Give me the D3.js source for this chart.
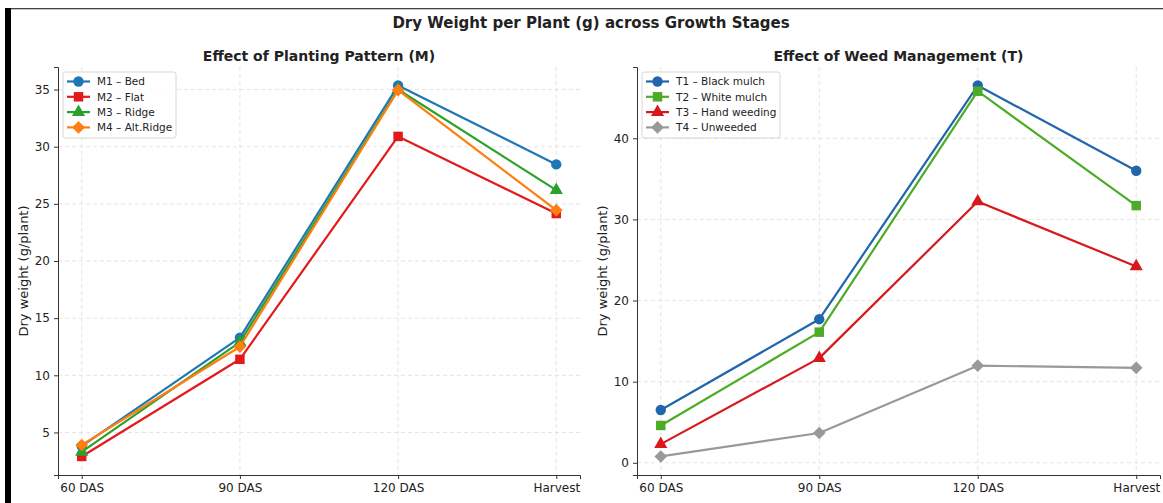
<!DOCTYPE html>
<html>
<head>
<meta charset="utf-8">
<script src="https://cdn.jsdelivr.net/npm/d3@7"></script>
<style>
  body { margin: 0; background: #fff; }
  svg text { font-family: "DejaVu Sans", sans-serif; fill: #222; }
</style>
</head>
<body>
<div id="chart"></div>
<script>
// growth stages (x categories)
var stages = ["60 DAS", "90 DAS", "120 DAS", "Harvest"];

// planting pattern series (left panel)
var patternNames = ["M1 – Bed", "M2 – Flat", "M3 – Ridge", "M4 – Alt.Ridge"];
var m1 = [3.8, 13.3, 35.35, 28.45];
var m2 = [2.9, 11.4, 30.9, 24.15];
var m3 = [3.3, 12.9, 35.0, 26.2];
var m4 = [3.9, 12.5, 34.95, 24.45];
var leftTicks = [5, 10, 15, 20, 25, 30, 35];

// weed management series (right panel)
var weedNames = ["T1 – Black mulch", "T2 – White mulch", "T3 – Hand weeding", "T4 – Unweeded"];
var t1 = [6.5, 17.7, 46.5, 36.0];
var t2 = [4.6, 16.1, 45.8, 31.7];
var t3 = [2.3, 12.9, 32.2, 24.2];
var t4 = [0.78, 3.67, 11.97, 11.7];
var rightTicks = [0, 10, 20, 30, 40];

var W = 1163, H = 503;
var svg = d3.select("#chart").append("svg")
  .attr("width", W).attr("height", H);

// frame bits seen in the screenshot
svg.append("rect").attr("x", 5).attr("y", 8).attr("width", W - 5).attr("height", 1.3).attr("fill", "#444");
svg.append("rect").attr("x", 5).attr("y", 8).attr("width", 6).attr("height", H - 8).attr("fill", "#000");

svg.append("text")
  .attr("x", 591).attr("y", 27.5)
  .attr("text-anchor", "middle")
  .style("font-size", "15px").style("font-weight", "bold")
  .text("Dry Weight per Plant (g) across Growth Stages");

function drawPanel(opts) {
  var x0 = opts.x0, x1 = opts.x1, y0 = 67, y1 = 475;
  var g = svg.append("g");

  var x = d3.scaleLinear().domain([-0.15, stages.length - 1 + 0.15]).range([x0, x1]);

  var all = [];
  opts.series.forEach(function (s) { all = all.concat(s.values); });
  var ext = d3.extent(all);
  var pad = (ext[1] - ext[0]) * 0.05;
  var y = d3.scaleLinear().domain([ext[0] - pad, ext[1] + pad]).range([y1, y0]);

  // grid
  g.selectAll(".gx").data(stages).enter().append("line")
    .attr("x1", function (d, i) { return x(i); }).attr("x2", function (d, i) { return x(i); })
    .attr("y1", y0).attr("y2", y1)
    .attr("stroke", "#ddd").attr("stroke-dasharray", "4,3").attr("stroke-width", 0.8);
  g.selectAll(".gy").data(opts.ticks).enter().append("line")
    .attr("x1", x0).attr("x2", x1)
    .attr("y1", function (d) { return y(d); }).attr("y2", function (d) { return y(d); })
    .attr("stroke", "#ddd").attr("stroke-dasharray", "4,3").attr("stroke-width", 0.8);

  // axes
  var ax = g.append("g").attr("transform", "translate(0," + y1 + ")")
    .call(d3.axisBottom(x).tickValues(d3.range(stages.length))
      .tickFormat(function (i) { return stages[i]; }).tickSizeOuter(0).tickSize(4).tickPadding(4));
  var ay = g.append("g").attr("transform", "translate(" + x0 + ",0)")
    .call(d3.axisLeft(y).tickValues(opts.ticks).tickSizeOuter(0).tickSize(4).tickPadding(4));
  [ax, ay].forEach(function (a) {
    a.select(".domain").attr("stroke", "#333");
    a.selectAll(".tick line").attr("stroke", "#333");
    a.selectAll(".tick text").style("font-size", "12px").attr("fill", "#222");
  });

  // lines + markers
  var line = d3.line().x(function (d, i) { return x(i); }).y(function (d) { return y(d); });
  opts.series.forEach(function (s) {
    g.append("path").datum(s.values)
      .attr("fill", "none").attr("stroke", s.color).attr("stroke-width", 2.2)
      .attr("stroke-linejoin", "round").attr("d", line);
    g.selectAll(null).data(s.values).enter().append("path")
      .attr("d", d3.symbol().type(s.shape.type).size(s.shape.size))
      .attr("transform", function (d, i) {
        return "translate(" + x(i) + "," + y(d) + ")" + (s.shape.rot ? " rotate(45)" : "");
      })
      .attr("fill", s.color);
  });

  // titles
  g.append("text").attr("x", (x0 + x1) / 2).attr("y", 61)
    .attr("text-anchor", "middle").style("font-size", "14px").style("font-weight", "bold")
    .text(opts.title);
  g.append("text")
    .attr("transform", "translate(" + (x0 - 30) + "," + ((y0 + y1) / 2) + ") rotate(-90)")
    .attr("text-anchor", "middle").style("font-size", "13px")
    .text("Dry weight (g/plant)");

  // legend
  var lg = g.append("g").attr("transform", "translate(" + (x0 + 5) + ",72)");
  lg.append("rect").attr("width", opts.legendW).attr("height", 66)
    .attr("rx", 2.5).attr("fill", "#fff").attr("fill-opacity", 0.8)
    .attr("stroke", "#ccc").attr("stroke-width", 0.8);
  opts.series.forEach(function (s, i) {
    var row = lg.append("g").attr("transform", "translate(0," + (9.5 + i * 15.3) + ")");
    row.append("line").attr("x1", 4).attr("x2", 27).attr("stroke", s.color).attr("stroke-width", 2.2);
    row.append("path").attr("d", d3.symbol().type(s.shape.type).size(s.shape.size))
      .attr("transform", "translate(15.5,0)" + (s.shape.rot ? " rotate(45)" : ""))
      .attr("fill", s.color);
    row.append("text").attr("x", 34).attr("y", 3.8).style("font-size", "10.5px").text(s.name);
  });
}

var circle = { type: d3.symbolCircle, size: 85 };
var square = { type: d3.symbolSquare, size: 90 };
var tri = { type: d3.symbolTriangle, size: 75 };
var diamond = { type: d3.symbolSquare, size: 80, rot: true };

drawPanel({
  x0: 58, x1: 580, ticks: leftTicks, legendW: 113,
  title: "Effect of Planting Pattern (M)",
  series: [
    { name: patternNames[0], values: m1, color: "#1f77b4", shape: circle },
    { name: patternNames[1], values: m2, color: "#e31a1c", shape: square },
    { name: patternNames[2], values: m3, color: "#2ca02c", shape: tri },
    { name: patternNames[3], values: m4, color: "#ff7f0e", shape: diamond }
  ]
});

drawPanel({
  x0: 637, x1: 1160, ticks: rightTicks, legendW: 138,
  title: "Effect of Weed Management (T)",
  series: [
    { name: weedNames[0], values: t1, color: "#2166ac", shape: circle },
    { name: weedNames[1], values: t2, color: "#4dac26", shape: square },
    { name: weedNames[2], values: t3, color: "#d7191c", shape: tri },
    { name: weedNames[3], values: t4, color: "#999999", shape: diamond }
  ]
});
</script>
</body>
</html>
